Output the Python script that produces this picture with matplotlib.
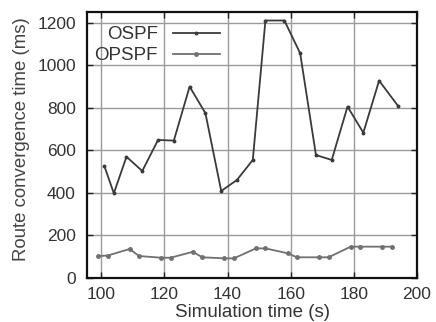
import numpy as np
import matplotlib
matplotlib.use("Agg")
import matplotlib.pyplot as plt

# data
ospf_t = [101, 104, 108, 113, 118, 123, 128, 133, 138, 143, 148, 152, 158, 163, 168, 173, 178, 183, 188, 194]
ospf_ms = [525, 397, 569, 502, 648, 645, 899, 774, 408, 460, 554, 1210, 1210, 1056, 577, 554, 805, 682, 927, 808]
opspf_t = [99, 102, 109, 112, 119, 122, 129, 132, 139, 142, 149, 152, 159, 162, 169, 172, 179, 182, 189, 192]
opspf_ms = [102, 104, 135, 102, 94, 94, 122, 96, 91, 91, 138, 138, 115, 96, 96, 96, 146, 146, 146, 146]

xticks = [100, 120, 140, 160, 180, 200]
yticks = [0, 200, 400, 600, 800, 1000, 1200]

plt.rcParams['font.family'] = ['Liberation Sans', 'DejaVu Sans']
plt.rcParams['font.size'] = 12.5
plt.rcParams['xtick.direction'] = 'in'
plt.rcParams['ytick.direction'] = 'in'

fig = plt.figure(figsize=(4.36, 3.22), dpi=100)
ax = fig.add_axes([87/436, 1 - 277.7/322, (417 - 87)/436, (277.7 - 12)/322])

ax.plot(ospf_t, ospf_ms, color="#3a3a3a", lw=1.3, marker="o", markersize=1.8, label="OSPF")
ax.plot(opspf_t, opspf_ms, color="#707070", lw=1.3, marker="o", markersize=2.5, label="OPSPF")

ax.set_xlim(95.5, 200)
ax.set_ylim(0, 1250)
ax.set_xticks(xticks)
ax.set_yticks(yticks)
ax.tick_params(top=True, right=True, length=4, width=1, colors="#222222", labelcolor="#333333")
ax.tick_params(axis="x", pad=7)
ax.tick_params(axis="y", pad=8)
ax.grid(True, color="#9a9a9a", lw=1.0)
for s in ax.spines.values():
    s.set_linewidth(1.6)
    s.set_color("#111111")

ax.set_xlabel("Simulation time (s)", color="#333333", fontsize=13.5)
ax.xaxis.set_label_coords(0.5, -0.098)
ax.set_ylabel("Route convergence time (ms)", color="#444444", fontsize=13.4)
ax.yaxis.set_label_coords(-0.172, 0.522)

leg = ax.legend(loc="upper left", bbox_to_anchor=(0.0, 0.975), frameon=False, markerfirst=False,
                fontsize=13.5, handlelength=2.5, handletextpad=0.8, labelspacing=0.2,
                borderaxespad=0.0)
for t in leg.get_texts():
    t.set_color("#333333")

fig.savefig("out.png", dpi=100)
